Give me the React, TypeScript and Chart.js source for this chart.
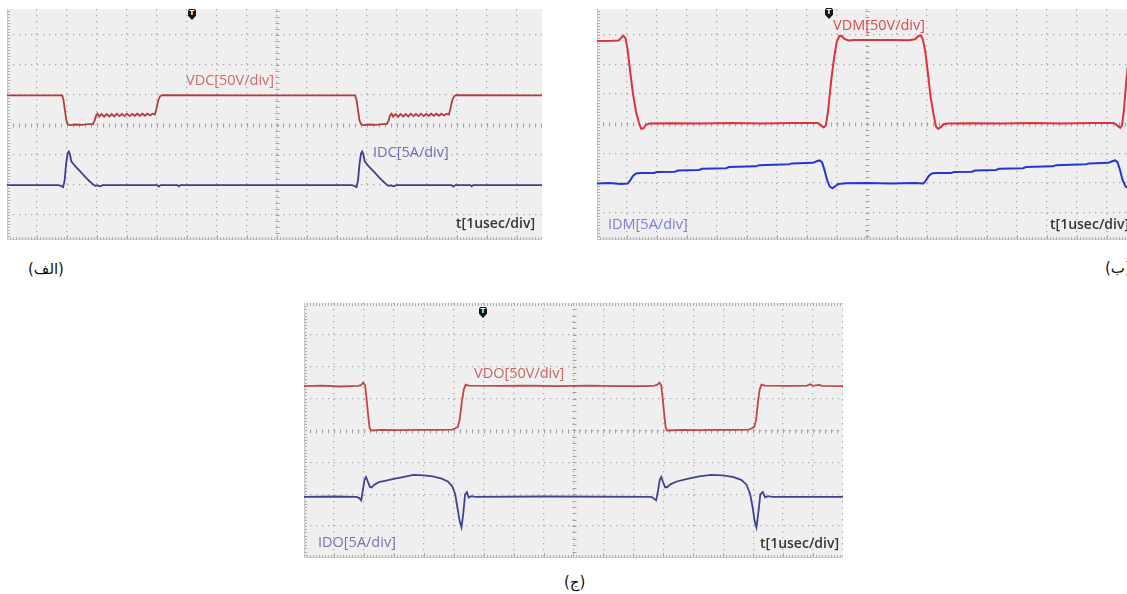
import React, { useEffect, useRef } from "react";
import { Chart, registerables } from "chart.js";

Chart.register(...registerables);

// every trace: [time in divisions (1 usec/div), level in divisions]
const vdcTrace: [number, number][] = [
  [0, 0.99], [1.84, 0.99], [1.88, 0.85], [1.93, 0.5], [1.98, 0.15], [2.03, 0.02], [2.1, 0.0],
  [2.3, 0.02], [2.5, 0.01], [2.7, 0.03], [2.86, 0.03], [2.92, 0.15], [2.97, 0.32], [3.02, 0.38],
  [3.07, 0.28], [3.15, 0.37], [3.24, 0.28], [3.32, 0.37], [3.41, 0.29], [3.49, 0.37], [3.58, 0.29],
  [3.66, 0.38], [3.75, 0.3], [3.83, 0.37], [3.92, 0.3], [4.0, 0.38], [4.09, 0.3], [4.17, 0.37],
  [4.26, 0.31], [4.34, 0.38], [4.43, 0.31], [4.51, 0.38], [4.6, 0.31], [4.68, 0.38], [4.77, 0.32],
  [4.85, 0.38], [4.93, 0.35], [4.98, 0.55], [5.04, 0.82], [5.1, 0.96], [5.17, 1.0], [8.0, 0.99],
  [11.6, 0.99], [11.65, 0.85], [11.7, 0.5], [11.75, 0.15], [11.81, 0.02], [11.9, 0.0], [12.1, 0.02],
  [12.3, 0.01], [12.5, 0.03], [12.66, 0.03], [12.72, 0.15], [12.77, 0.32], [12.82, 0.38],
  [12.87, 0.28], [12.95, 0.37], [13.04, 0.28], [13.12, 0.37], [13.21, 0.29], [13.29, 0.37],
  [13.38, 0.29], [13.46, 0.38], [13.55, 0.3], [13.63, 0.37], [13.72, 0.3], [13.8, 0.38],
  [13.89, 0.3], [13.97, 0.37], [14.06, 0.31], [14.14, 0.38], [14.23, 0.31], [14.31, 0.38],
  [14.4, 0.31], [14.48, 0.38], [14.57, 0.32], [14.65, 0.38], [14.73, 0.35], [14.78, 0.55],
  [14.84, 0.82], [14.9, 0.96], [14.97, 1.0], [17.9, 0.99],
];

const idcTrace: [number, number][] = [
  [0, -2.0], [1.72, -2.0], [1.8, -2.03], [1.87, -2.07], [1.92, -1.85], [1.97, -1.3], [2.02, -0.95],
  [2.06, -0.88], [2.1, -0.98], [2.14, -1.2], [2.2, -1.28], [2.28, -1.38], [2.36, -1.46],
  [2.44, -1.54], [2.52, -1.63], [2.6, -1.72], [2.68, -1.8], [2.76, -1.88], [2.85, -1.96],
  [2.93, -2.02], [3.02, -2.01], [3.1, -2.04], [3.2, -2.0], [5.0, -2.0], [5.06, -2.05], [5.12, -2.0],
  [5.68, -2.0], [5.73, -2.04], [5.78, -2.0], [11.5, -2.0], [11.58, -2.03], [11.65, -2.07],
  [11.7, -1.85], [11.75, -1.3], [11.8, -0.95], [11.84, -0.88], [11.88, -0.98], [11.92, -1.2],
  [11.98, -1.28], [12.06, -1.38], [12.14, -1.46], [12.22, -1.54], [12.3, -1.63], [12.38, -1.72],
  [12.46, -1.8], [12.54, -1.88], [12.63, -1.96], [12.71, -2.02], [12.8, -2.01], [12.88, -2.04],
  [12.98, -2.0], [14.82, -2.0], [14.88, -2.05], [14.94, -2.0], [15.44, -2.0], [15.49, -2.04],
  [15.54, -2.0], [17.9, -2.0],
];

const vdmTrace: [number, number][] = [
  [0, 2.78], [0.5, 2.79], [0.72, 2.8], [0.82, 2.9], [0.88, 2.96], [0.95, 2.88], [1.02, 2.5],
  [1.1, 1.8], [1.2, 1.0], [1.3, 0.4], [1.4, 0.02], [1.47, -0.17], [1.55, -0.16], [1.63, -0.04],
  [1.75, 0.0], [2.5, 0.01], [3.5, 0.0], [4.5, 0.02], [5.5, 0.0], [6.5, 0.02], [7.35, 0.02],
  [7.47, -0.06], [7.56, -0.13], [7.63, -0.06], [7.7, 0.4], [7.8, 1.4], [7.9, 2.2], [7.99, 2.75],
  [8.08, 2.95], [8.15, 2.96], [8.25, 2.85], [8.38, 2.8], [8.6, 2.82], [9.2, 2.82], [9.8, 2.82],
  [10.4, 2.81], [10.6, 2.84], [10.72, 2.95], [10.79, 2.97], [10.86, 2.85], [10.94, 2.45],
  [11.03, 1.7], [11.12, 0.9], [11.22, 0.3], [11.3, -0.1], [11.37, -0.18], [11.46, -0.12],
  [11.55, -0.02], [11.7, 0.0], [12.5, 0.01], [13.5, 0.0], [14.5, 0.02], [15.5, 0.0], [16.5, 0.02],
  [17.22, 0.02], [17.34, -0.06], [17.44, -0.14], [17.5, -0.06], [17.56, 0.4], [17.64, 1.4],
  [17.72, 2.2], [17.8, 2.75], [17.9, 2.95],
];

const idmTrace: [number, number][] = [
  [0, -2.02], [0.4, -2.0], [0.8, -2.03], [1.02, -2.02], [1.1, -1.92], [1.2, -1.76], [1.3, -1.68],
  [1.45, -1.66], [1.9, -1.66], [2.0, -1.63], [2.6, -1.62], [2.7, -1.58], [3.4, -1.56],
  [3.5, -1.52], [4.3, -1.5], [4.4, -1.46], [5.3, -1.44], [5.4, -1.4], [6.4, -1.37], [6.5, -1.34],
  [7.2, -1.32], [7.32, -1.27], [7.42, -1.24], [7.5, -1.3], [7.58, -1.55], [7.67, -1.9],
  [7.76, -2.12], [7.85, -2.18], [7.95, -2.1], [8.05, -2.03], [8.3, -2.01], [9.0, -2.0],
  [9.8, -2.02], [10.6, -2.0], [10.88, -2.02], [10.96, -1.92], [11.06, -1.76], [11.16, -1.68],
  [11.3, -1.66], [11.8, -1.66], [11.9, -1.63], [12.5, -1.62], [12.6, -1.58], [13.3, -1.56],
  [13.4, -1.52], [14.2, -1.5], [14.3, -1.46], [15.2, -1.44], [15.3, -1.4], [16.3, -1.37],
  [16.4, -1.34], [17.05, -1.32], [17.17, -1.27], [17.27, -1.24], [17.35, -1.3], [17.43, -1.55],
  [17.52, -1.9], [17.62, -2.12], [17.72, -2.18], [17.9, -2.1],
];

const vdoTrace: [number, number][] = [
  [0, 1.39], [0.6, 1.41], [1.2, 1.38], [1.8, 1.4], [1.9, 1.42], [1.98, 1.5], [2.04, 1.42],
  [2.09, 1.0], [2.14, 0.5], [2.19, 0.08], [2.24, 0.0], [2.6, 0.02], [3.2, 0.01], [3.8, 0.02],
  [4.4, 0.02], [4.95, 0.03], [5.06, 0.07], [5.14, 0.12], [5.2, 0.35], [5.27, 0.9], [5.34, 1.3],
  [5.4, 1.44], [5.5, 1.41], [6.5, 1.4], [7.5, 1.41], [8.5, 1.39], [9.5, 1.41], [10.5, 1.39],
  [11.4, 1.39], [11.7, 1.41], [11.8, 1.44], [11.87, 1.5], [11.93, 1.42], [11.98, 1.0],
  [12.03, 0.5], [12.08, 0.08], [12.13, 0.0], [12.6, 0.02], [13.2, 0.01], [13.8, 0.02],
  [14.4, 0.02], [14.85, 0.03], [14.96, 0.07], [15.04, 0.12], [15.1, 0.35], [15.16, 0.9],
  [15.22, 1.3], [15.28, 1.44], [15.4, 1.41], [16.2, 1.4], [16.8, 1.41], [16.9, 1.45], [17.0, 1.4],
  [17.2, 1.43], [17.3, 1.4], [18, 1.39],
];

const idoTrace: [number, number][] = [
  [0, -2.08], [1.0, -2.07], [1.75, -2.08], [1.85, -2.12], [1.91, -2.19], [1.96, -1.9],
  [2.02, -1.55], [2.07, -1.46], [2.13, -1.6], [2.2, -1.77], [2.26, -1.79], [2.35, -1.7],
  [2.5, -1.62], [2.7, -1.58], [3.0, -1.52], [3.3, -1.46], [3.65, -1.39], [4.0, -1.41],
  [4.3, -1.44], [4.6, -1.51], [4.8, -1.6], [4.95, -1.75], [5.05, -2.0], [5.12, -2.4],
  [5.2, -2.85], [5.26, -3.04], [5.32, -2.6], [5.38, -2.0], [5.44, -1.93], [5.5, -2.1],
  [5.6, -2.06], [5.72, -2.08], [8.0, -2.07], [11.6, -2.08], [11.7, -2.15], [11.76, -2.19],
  [11.82, -1.9], [11.88, -1.55], [11.93, -1.46], [11.99, -1.62], [12.06, -1.78], [12.12, -1.78],
  [12.25, -1.68], [12.45, -1.6], [12.8, -1.52], [13.2, -1.44], [13.6, -1.39], [14.0, -1.41],
  [14.35, -1.46], [14.6, -1.55], [14.78, -1.7], [14.9, -2.0], [14.98, -2.4], [15.05, -2.85],
  [15.11, -3.04], [15.17, -2.6], [15.24, -2.0], [15.32, -1.93], [15.4, -2.1], [15.5, -2.06],
  [15.63, -2.08], [18, -2.08],
];

const FONT = "'Open Sans', 'Noto Sans', sans-serif";

// oscilloscope frame: minor ticks on the centre lines and on the edges
const scopeFrame = {
  id: "scopeFrame",
  beforeDatasetsDraw(chart: any, _args: any, opts: any) {
    const { ctx, chartArea: a, scales } = chart;
    const x = scales.x;
    const y = scales.y;
    const cx = Math.round(x.getPixelForValue(9)) + 0.5;
    const cy = Math.round(y.getPixelForValue(0)) + 0.5;
    ctx.save();
    ctx.lineWidth = 1;
    ctx.strokeStyle = "#a2a2a2";
    ctx.beginPath();
    for (let v = Math.ceil(x.min * 5) / 5; v <= x.max; v += 0.2) {
      const px = Math.round(x.getPixelForValue(v)) + 0.5;
      ctx.moveTo(px, cy - 2);
      ctx.lineTo(px, cy + 2);
    }
    for (let v = Math.ceil(y.min * 5) / 5; v <= y.max; v += 0.2) {
      const py = Math.round(y.getPixelForValue(v)) + 0.5;
      ctx.moveTo(cx - 2, py);
      ctx.lineTo(cx + 2, py);
    }
    ctx.stroke();

    ctx.strokeStyle = "#acacac";
    ctx.beginPath();
    for (let v = Math.ceil(x.min * 10) / 10; v <= x.max; v += 0.1) {
      const px = Math.round(x.getPixelForValue(v)) + 0.5;
      const major = Math.abs(v - Math.round(v)) < 0.01;
      ctx.moveTo(px, a.bottom - 1);
      ctx.lineTo(px, a.bottom - (major ? 5 : 3));
      if (opts.top) {
        ctx.moveTo(px, a.top);
        ctx.lineTo(px, a.top + 3);
      }
    }
    for (let v = Math.ceil(y.min * 10) / 10; v <= y.max; v += 0.1) {
      const py = Math.round(y.getPixelForValue(v)) + 0.5;
      ctx.moveTo(a.left, py);
      ctx.lineTo(a.left + 3, py);
    }
    ctx.stroke();

    ctx.strokeStyle = "#c8c8c8";
    ctx.beginPath();
    ctx.moveTo(a.left + 0.5, a.top);
    ctx.lineTo(a.left + 0.5, a.bottom);
    ctx.moveTo(a.left, a.bottom - 0.5);
    ctx.lineTo(a.right, a.bottom - 0.5);
    ctx.stroke();
    ctx.restore();
  },
};

type Trace = { points: [number, number][]; color: string; width: number };

type ScopeProps = {
  left: number;
  top: number;
  width: number;
  height: number;
  xMax: number;
  yMin: number;
  yMax: number;
  top0?: boolean;
  traces: Trace[];
};

function divisions(min: number, max: number) {
  const out: { value: number }[] = [];
  for (let v = Math.ceil(min); v <= max + 0.001; v++) out.push({ value: v });
  return out;
}

function Scope({ left, top, width, height, xMax, yMin, yMax, top0, traces }: ScopeProps) {
  const chartRef = useRef<HTMLCanvasElement>(null);

  useEffect(() => {
    const ctx = chartRef.current?.getContext("2d");
    if (!ctx) return;
    const grid = { color: "#a9a9a9", lineWidth: 1.3, drawTicks: false };
    const chart = new Chart(ctx, {
      type: "line",
      data: {
        datasets: traces.map((tr) => ({
          data: tr.points.map(([t, v]) => ({ x: t, y: v })),
          borderColor: tr.color,
          borderWidth: tr.width,
          pointRadius: 0,
          tension: 0,
          fill: false,
        })),
      },
      options: {
        animation: false,
        responsive: false,
        events: [],
        layout: { padding: 0, autoPadding: false },
        plugins: {
          legend: { display: false },
          tooltip: { enabled: false },
          scopeFrame: { top: !!top0 },
        } as any,
        scales: {
          x: {
            type: "linear",
            min: 0,
            max: xMax,
            ticks: { display: false },
            afterBuildTicks: (axis: any) => {
              axis.ticks = divisions(0, xMax);
            },
            grid,
            border: { display: false, dash: [1.3, 4.7] },
          },
          y: {
            type: "linear",
            min: yMin,
            max: yMax,
            ticks: { display: false },
            afterBuildTicks: (axis: any) => {
              axis.ticks = divisions(yMin, yMax);
            },
            grid,
            border: { display: false, dash: [1.3, 4.7] },
          },
        },
      },
      plugins: [scopeFrame],
    });
    return () => chart.destroy();
  }, []);

  return (
    <div style={{ position: "absolute", left, top, width, height, background: "#efefef" }}>
      <canvas ref={chartRef} width={width} height={height}></canvas>
    </div>
  );
}

function Label({ x, y, text, color, size = 14.5, weight = 400 }: any) {
  return (
    <span
      style={{
        position: "absolute",
        left: x,
        top: y,
        color,
        fontFamily: FONT,
        fontSize: size,
        fontWeight: weight,
        lineHeight: 1,
        whiteSpace: "nowrap",
      }}
    >
      {text}
    </span>
  );
}

function Trigger({ x, y }: { x: number; y: number }) {
  return (
    <div
      style={{
        position: "absolute",
        left: x,
        top: y,
        width: 8,
        height: 11,
        background: "#151515",
        clipPath: "polygon(15% 0, 85% 0, 100% 15%, 100% 62%, 50% 100%, 0 62%, 0 15%)",
        color: "#fff",
        fontFamily: "'DejaVu Sans', sans-serif",
        fontSize: 7,
        fontWeight: 700,
        lineHeight: "8px",
        textAlign: "center",
      }}
    >
      T
    </div>
  );
}

function Caption({ x, y, text }: { x: number; y: number; text: string }) {
  return (
    <span
      dir="rtl"
      style={{
        position: "absolute",
        left: x,
        top: y,
        fontFamily: "'DejaVu Sans', serif",
        fontSize: 15,
        color: "#111",
        lineHeight: 1,
        whiteSpace: "nowrap",
      }}
    >
      {text}
    </span>
  );
}

export default function App(): JSX.Element {
  return (
    <div
      style={{
        position: "fixed",
        left: 0,
        top: 0,
        width: 1127,
        height: 594,
        overflow: "hidden",
        background: "#ffffff",
      }}
    >
      <Scope
        left={7}
        top={9}
        width={535}
        height={231}
        xMax={535 / 30}
        yMin={-3.83}
        yMax={3.87}
        traces={[
          { points: vdcTrace, color: "#b53c3c", width: 1.8 },
          { points: idcTrace, color: "#3b3f8c", width: 1.8 },
        ]}
      />
      <Scope
        left={597}
        top={9}
        width={540}
        height={231}
        xMax={18}
        yMin={-3.92}
        yMax={3.86}
        traces={[
          { points: vdmTrace, color: "#e0303a", width: 2 },
          { points: idmTrace, color: "#2535d6", width: 2 },
        ]}
      />
      <Scope
        left={304}
        top={303}
        width={539}
        height={255}
        xMax={18}
        yMin={-4}
        yMax={4}
        top0
        traces={[
          { points: vdoTrace, color: "#c24545", width: 1.8 },
          { points: idoTrace, color: "#3f4394", width: 1.8 },
        ]}
      />

      <Label x={186} y={73} text="VDC[50V/div]" color="#cf6a6a" />
      <Label x={373} y={145} text="IDC[5A/div]" color="#6b6fb5" />
      <Label x={456} y={216} text="t[1usec/div]" color="#363636" weight={600} size={14} />

      <Label x={833} y={18} text="VDM[50V/div]" color="#e2464f" />
      <Label x={608} y={217} text="IDM[5A/div]" color="#7b7fd6" />
      <Label x={1050} y={217} text="t[1usec/div]" color="#363636" weight={600} size={14} />

      <Label x={474} y={366} text="VDO[50V/div]" color="#cc6464" />
      <Label x={318} y={535} text="IDO[5A/div]" color="#7276b8" />
      <Label x={760} y={536} text="t[1usec/div]" color="#363636" weight={600} size={14} />

      <Trigger x={188} y={9} />
      <Trigger x={825} y={8} />
      <Trigger x={479} y={307} />

      <Caption x={28} y={262} text="(الف)" />
      <Caption x={1105} y={261} text="(ب)" />
      <Caption x={564} y={575} text="(ج)" />
    </div>
  );
}
